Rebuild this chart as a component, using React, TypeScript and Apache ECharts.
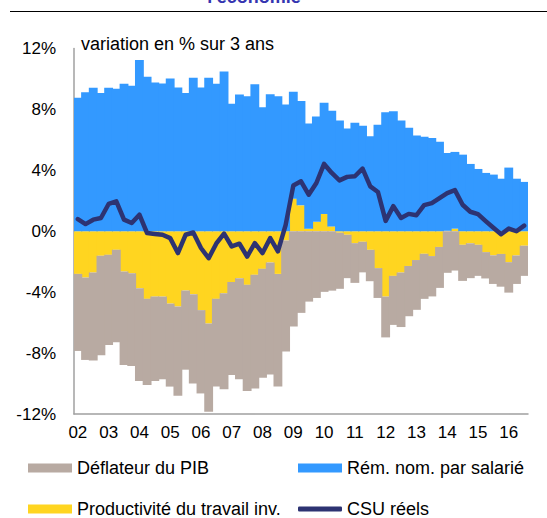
import React, { useEffect, useRef } from "react";
import * as echarts from "echarts";

const years = ["02", "03", "04", "05", "06", "07", "08", "09", "10", "11", "12", "13", "14", "15", "16"];
const quarters = ["T1", "T2", "T3", "T4"];
const nBars = 59;

const deflateur = [
  -5.06, -5.41, -5.77, -6.54, -5.92, -6.07, -6.14, -6.1, -6.1, -5.66,
  -5.55, -5.43, -5.45, -5.86, -5.2, -5.86, -5.47, -5.79, -5.76, -6.31,
  -6.1, -6.64, -6.97, -7.46, -7.15, -7.35, -7.4, -7.3, -6.26, -5.36,
  -4.62, -4.38, -3.98, -3.9, -3.68, -2.85, -2.61, -2.01, -2.06, -1.96,
  -2.68, -3.22, -3.58, -3.3, -3.27, -2.96, -2.65, -2.69, -2.73, -2.58,
  -2.37, -2.29, -2.04, -1.73, -1.88, -2.15, -2.0, -1.87, -1.98,
];

const remuneration = [
  8.76, 9.13, 9.42, 9.07, 9.42, 9.35, 9.68, 9.55, 11.24, 10.14,
  9.77, 9.7, 10.03, 9.44, 9.07, 10.08, 9.44, 10.08, 9.68, 10.49,
  8.37, 8.98, 8.87, 9.66, 8.15, 9.0, 8.87, 8.32, 7.02, 6.86,
  6.9, 6.91, 7.3, 7.59, 7.27, 6.74, 7.12, 6.92, 6.24, 7.0,
  7.82, 7.88, 7.27, 6.79, 6.28, 6.2, 6.13, 5.87, 5.11, 5.04,
  5.03, 4.42, 4.09, 3.83, 3.72, 3.45, 4.18, 3.45, 3.24,
];

const productivite = [
  -2.8, -3.04, -2.71, -1.61, -1.55, -1.22, -2.64, -2.75, -3.74, -4.44,
  -4.29, -4.29, -4.75, -4.94, -3.89, -4.13, -5.18, -6.06, -4.44, -4.07,
  -3.34, -3.08, -3.52, -2.86, -2.47, -2.05, -2.8, -0.6, 2.14, 1.7,
  0.17, 0.62, 1.13, 0.32, -0.1, -0.23, -0.78, -0.69, -1.22, -2.42,
  -4.29, -2.93, -2.71, -2.28, -1.89, -1.48, -1.63, -1.03, 0.03, 0.17,
  -0.89, -0.79, -0.89, -1.37, -1.58, -1.49, -2.03, -1.59, -0.95,
];

const csuReels = [
  0.8, 0.47, 0.76, 0.87, 1.79, 1.96, 0.76, 0.54, 1.09, -0.12,
  -0.18, -0.23, -0.45, -1.43, -0.23, -0.08, -1.1, -1.77, -0.8, -0.15,
  -1.0, -0.82, -1.66, -0.78, -1.43, -0.45, -1.32, 0.4, 3.0, 3.28,
  2.4, 3.17, 4.42, 3.83, 3.34, 3.57, 3.61, 4.11, 2.95, 2.58,
  0.68, 1.65, 0.87, 1.14, 1.05, 1.72, 1.85, 2.18, 2.51, 2.7,
  1.74, 1.28, 1.13, 0.67, 0.23, -0.2, 0.18, 0.0, 0.37,
];

const yTicks = [-12, -8, -4, 0, 4, 8, 12];

const NAME_DEFL = "Déflateur du PIB";
const NAME_REM = "Rém. nom. par salarié";
const NAME_PROD = "Productivité du travail inv.";
const NAME_CSU = "CSU réels";

const FONT = "'Liberation Sans', Arial, sans-serif";
const C_GREY = "#B8AAA2";
const C_BLUE = "#3399FF";
const C_YELLOW = "#FFD520";
const C_NAVY = "#2D3372";

export default function App() {
  const ref = useRef<HTMLDivElement>(null);

  useEffect(() => {
    if (!ref.current) return;
    const chart = echarts.init(ref.current, undefined, { renderer: "svg" });
    const categories = years.flatMap((y) => quarters.map((q) => q + " " + y)).slice(0, nBars);

    const legendBase = {
      orient: "horizontal" as const,
      itemWidth: 44,
      itemHeight: 9,
      itemGap: 5,
      padding: 0,
      selectedMode: false,
      textStyle: { fontFamily: FONT, fontSize: 18, color: "#000" },
    };

    const option = {
      animation: false,
      backgroundColor: "#fff",
      textStyle: { fontFamily: FONT },
      grid: { left: 74, right: 19, top: 48.5, bottom: 104, containLabel: false },
      xAxis: {
        type: "category",
        data: categories,
        boundaryGap: true,
        axisLine: { onZero: false, lineStyle: { color: "#A0A0A0", width: 1.5 } },
        axisTick: { show: false },
        axisLabel: {
          interval: 3,
          margin: 10,
          fontSize: 17,
          color: "#000",
          fontFamily: FONT,
          formatter: (v: string) => v.split(" ")[1],
        },
        splitLine: { show: false },
      },
      yAxis: {
        type: "value",
        min: yTicks[0],
        max: yTicks[yTicks.length - 1],
        interval: 4,
        axisLine: { show: true, lineStyle: { color: "#A0A0A0", width: 1.5 } },
        axisTick: { show: false },
        splitLine: { show: false },
        axisLabel: {
          margin: 18,
          fontSize: 17,
          color: "#000",
          fontFamily: FONT,
          formatter: (v: number) => v + "%",
        },
      },
      legend: [
        { ...legendBase, left: 28, top: 459, data: [{ name: NAME_DEFL, icon: "rect" }] },
        { ...legendBase, left: 298, top: 459, data: [{ name: NAME_REM, icon: "rect" }] },
        { ...legendBase, left: 28, top: 500, data: [{ name: NAME_PROD, icon: "rect" }] },
        {
          ...legendBase,
          left: 298,
          top: 500,
          itemHeight: 5,
          data: [{ name: NAME_CSU, icon: "roundRect" }],
        },
      ],
      graphic: [
        {
          type: "line",
          shape: { x1: 10, y1: 11.5, x2: 547, y2: 11.5 },
          style: { stroke: "#000", lineWidth: 1 },
          silent: true,
        },
        {
          type: "text",
          x: 254,
          y: 6,
          style: {
            text: "l'économie",
            fontFamily: FONT,
            fontSize: 18,
            fontWeight: "bold",
            fill: "#3535B0",
            align: "center",
            verticalAlign: "bottom",
          },
          silent: true,
        },
        {
          type: "text",
          x: 81,
          y: 44,
          style: {
            text: "variation en % sur 3 ans",
            fontFamily: FONT,
            fontSize: 18,
            fill: "#000",
            align: "left",
            verticalAlign: "middle",
          },
          silent: true,
        },
      ],
      series: [
        {
          name: NAME_PROD,
          type: "bar",
          stack: "total",
          data: productivite,
          barCategoryGap: "-15%",
          itemStyle: { color: C_YELLOW },
        },
        {
          name: NAME_REM,
          type: "bar",
          stack: "total",
          data: remuneration,
          barCategoryGap: "-15%",
          itemStyle: { color: C_BLUE },
        },
        {
          name: NAME_DEFL,
          type: "bar",
          stack: "total",
          data: deflateur,
          barCategoryGap: "-15%",
          itemStyle: { color: C_GREY },
        },
        {
          name: NAME_CSU,
          type: "line",
          data: csuReels,
          symbol: "none",
          smooth: false,
          itemStyle: { color: C_NAVY },
          lineStyle: { color: C_NAVY, width: 4.5, cap: "round", join: "round" },
          z: 5,
        },
      ],
    };

    chart.setOption(option as any);
    return () => chart.dispose();
  }, []);

  return (
    <div
      ref={ref}
      style={{ position: "absolute", left: 0, top: 0, width: 547, height: 518 }}
    />
  );
}
